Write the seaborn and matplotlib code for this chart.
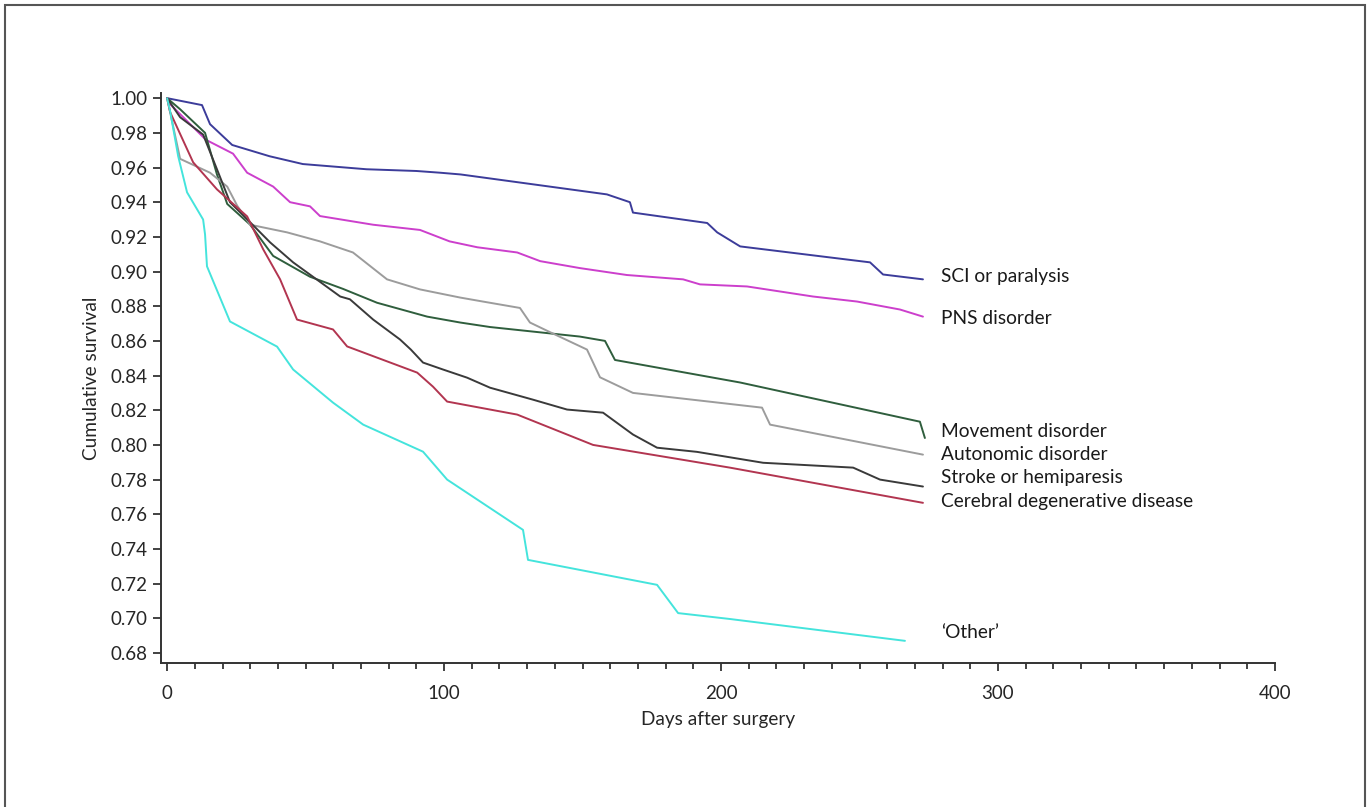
import pandas as pd
import matplotlib.pyplot as plt
import seaborn as sns
from matplotlib.patches import Rectangle
from matplotlib.ticker import MultipleLocator

# Survival curves (days after surgery, cumulative survival)
sci_days = [0, 12.6, 15.5, 23.5, 37, 49, 72, 90, 98.6, 106, 158.8, 167.1, 168.2, 195, 198.6, 206.9, 253.8, 258.5, 272.9]
sci_surv = [1.0, 0.996, 0.985, 0.973, 0.9665, 0.962, 0.959, 0.958, 0.957, 0.956, 0.9445, 0.940, 0.934, 0.928, 0.9226, 0.9145, 0.9053, 0.8983, 0.8955]

pns_days = [0, 1.1, 14, 23.8, 28.9, 38.3, 44.4, 51.6, 55.2, 74.4, 91.3, 102, 112, 126.4, 134.7, 149, 166, 186.3, 192.4, 209.4, 233.2, 249.1, 264.6, 272.9]
pns_surv = [1.0, 0.9965, 0.976, 0.968, 0.957, 0.949, 0.940, 0.9376, 0.932, 0.927, 0.924, 0.9174, 0.914, 0.911, 0.906, 0.902, 0.898, 0.8955, 0.8926, 0.8914, 0.8856, 0.8827, 0.8781, 0.874]

mov_days = [0, 4.7, 13.7, 18, 21.7, 30, 38.3, 51.6, 63.5, 75.8, 93.9, 105.8, 116.6, 149, 158.1, 161.7, 206.9, 271.8, 273.6]
mov_surv = [1.0, 0.9936, 0.980, 0.956, 0.939, 0.927, 0.909, 0.897, 0.890, 0.882, 0.874, 0.8706, 0.868, 0.8625, 0.860, 0.849, 0.836, 0.8134, 0.804]

aut_days = [0, 4.7, 15.5, 21.7, 25.3, 30, 43.3, 55.2, 67.1, 79.4, 91.3, 105.8, 114, 127.4, 131, 138.3, 151.6, 156.3, 168.2, 214.8, 217.7, 245.5, 272.9]
aut_surv = [1.0, 0.965, 0.957, 0.949, 0.938, 0.927, 0.9226, 0.9174, 0.911, 0.8955, 0.8897, 0.885, 0.8827, 0.879, 0.8706, 0.865, 0.855, 0.839, 0.830, 0.8215, 0.8117, 0.803, 0.7944]

stk_days = [0, 4.7, 13, 18, 22.7, 30, 37.2, 45.5, 62.5, 66, 74.4, 84.1, 88, 92.4, 99.6, 108.3, 116.6, 132.1, 144.4, 157.4, 168.2, 176.9, 191.3, 215.2, 247.7, 257.4, 272.9]
stk_surv = [1.0, 0.989, 0.979, 0.959, 0.940, 0.9284, 0.9168, 0.9053, 0.8856, 0.884, 0.8723, 0.8608, 0.855, 0.8475, 0.8435, 0.8388, 0.833, 0.8261, 0.8204, 0.8186, 0.806, 0.7984, 0.796, 0.7897, 0.7869, 0.780, 0.776]

cer_days = [0, 1.1, 9.4, 18, 28.9, 34.7, 40.8, 46.9, 59.9, 65, 90.3, 96, 101.1, 126.4, 153.8, 203.2, 272.9]
cer_surv = [1.0, 0.9919, 0.963, 0.9474, 0.9318, 0.9128, 0.8955, 0.8723, 0.8666, 0.8568, 0.8417, 0.8336, 0.825, 0.8175, 0.800, 0.7869, 0.7666]

oth_days = [0, 1.1, 4, 7.2, 13, 13.7, 14.4, 22.7, 39.7, 45.5, 59.9, 70.8, 92.4, 101.1, 128.5, 130.3, 176.9, 184.5, 203.2, 266.4]
oth_surv = [1.0, 0.9925, 0.9665, 0.9457, 0.930, 0.9214, 0.903, 0.8712, 0.8567, 0.8435, 0.8244, 0.8117, 0.7961, 0.780, 0.751, 0.7337, 0.7193, 0.703, 0.6996, 0.687]

groups = ["SCI or paralysis", "PNS disorder", "Movement disorder", "Autonomic disorder",
          "Stroke or hemiparesis", "Cerebral degenerative disease", "\u2018Other\u2019"]
colors = ["#3c3c9a", "#cc3fcc", "#2f5e3d", "#9c9c9c", "#3a3a3a", "#b23550", "#44e4dc"]
# label y positions (data units) at the right end of the curves
label_y = [0.8972, 0.873, 0.8077, 0.7944, 0.781, 0.7672, 0.692]

series = [(sci_days, sci_surv), (pns_days, pns_surv), (mov_days, mov_surv), (aut_days, aut_surv),
          (stk_days, stk_surv), (cer_days, cer_surv), (oth_days, oth_surv)]
frames = []
for name, (d, s) in zip(groups, series):
    frames.append(pd.DataFrame({"days": d, "surv": s, "group": name}))
df = pd.concat(frames, ignore_index=True)

sns.set_style("ticks")
plt.rcParams['font.family'] = ['Lato', 'DejaVu Sans']

fig = plt.figure(figsize=(13.68, 8.07), dpi=100)
ax = fig.add_axes([0.1177, 0.1784, 0.8143, 0.7064])

sns.lineplot(data=df, x="days", y="surv", hue="group", palette=dict(zip(groups, colors)),
             estimator=None, sort=False, linewidth=1.4, legend=False, ax=ax)

for name, c, ly in zip(groups, colors, label_y):
    ax.text(279.3, ly, name, fontsize=13.8, color="#1a1a1a", va="center", ha="left")

ax.set_xlim(-2.2, 400)
ax.set_ylim(0.6742, 1.003)
ax.set_xticks([0, 100, 200, 300, 400])
ax.xaxis.set_minor_locator(MultipleLocator(10))
ax.set_yticks([0.68 + 0.02 * i for i in range(17)])
ax.set_yticklabels([f"{0.68 + 0.02 * i:.2f}" for i in range(17)])
ax.tick_params(axis="both", which="major", labelsize=13.5, length=6, width=1.2, color="#222222")
ax.tick_params(axis="x", which="major", pad=10)
ax.tick_params(axis="x", which="minor", length=4, width=1.2, color="#222222")
ax.set_xlabel("Days after surgery", fontsize=13.7, labelpad=6)
ax.set_ylabel("Cumulative survival", fontsize=13.7, labelpad=8)
for side in ["left", "bottom"]:
    ax.spines[side].set_linewidth(1.4)
    ax.spines[side].set_color("#333333")
sns.despine(ax=ax)

# outer frame around the figure
fig.patches.append(Rectangle((5 / 1368, -0.01), 1360 / 1368, 1 - 5 / 807 + 0.01,
                             transform=fig.transFigure, fill=False, edgecolor="#555555", linewidth=1.5))

fig.savefig("out.png", dpi=100)
